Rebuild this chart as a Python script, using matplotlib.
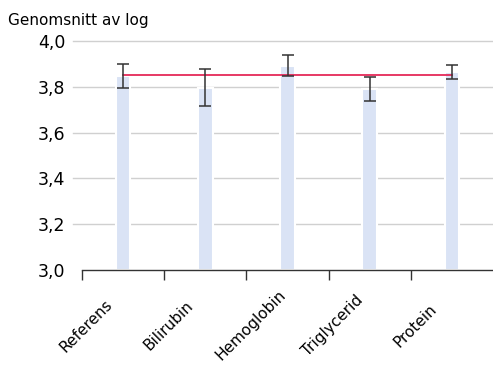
import matplotlib
matplotlib.use("Agg")
import matplotlib.pyplot as plt
import matplotlib.transforms as mtransforms
import numpy as np

# data
categories = ["Referens", "Bilirubin", "Hemoglobin", "Triglycerid", "Protein"]
means = [3.847, 3.796, 3.892, 3.790, 3.864]
errors = [0.052, 0.082, 0.046, 0.052, 0.031]
reference_level = 3.853
y_ticks = [3.0, 3.2, 3.4, 3.6, 3.8, 4.0]

fig = plt.figure(figsize=(4.93, 3.65), dpi=100)
ax = fig.add_axes([82/493, 1 - 270/365, 411/493, 229/365])

x = np.arange(len(categories))
ax.bar(x, np.array(means) - 3.0, bottom=3.0, width=0.18, color="#dae3f5",
       edgecolor="white", linewidth=1.5, zorder=2)
ax.errorbar(x, means, yerr=errors, fmt="none", ecolor="#333333",
            elinewidth=1.1, capsize=4, capthick=1.1, zorder=4)
ax.plot([x[0], x[-1]], [reference_level, reference_level], color="#e3174a",
        linewidth=1.2, zorder=3)

ax.set_xlim(-0.5, 4.5)
ax.set_ylim(3.0, 4.0)
ax.set_yticks(y_ticks)
ax.set_yticklabels([f"{v:.1f}".replace(".", ",") for v in y_ticks], fontsize=12.5)
ax.tick_params(axis="y", length=0, pad=12)
# grid lines reach a little left of the x axis start
for v in y_ticks[1:]:
    ax.axhline(v, xmin=-0.022, xmax=1, color="#d0d0d0", linewidth=1,
               zorder=0, clip_on=False)

# major ticks at category boundaries, labels at centers
ax.set_xticks(np.arange(-0.5, 4.5, 1.0))
ax.set_xticklabels([])
ax.tick_params(axis="x", which="major", length=7, width=1, color="#333333")
ax.set_xticks(x, minor=True)
ax.set_xticklabels(categories, minor=True, rotation=45, ha="center", va="center",
                   rotation_mode="anchor", fontsize=11)
ax.tick_params(axis="x", which="minor", length=0, pad=40)
# rotated labels sit left of their bars, centred on a point below the axis
offset = mtransforms.ScaledTranslation(-37/100, 0, fig.dpi_scale_trans)
for lab in ax.get_xticklabels(minor=True):
    lab.set_transform(lab.get_transform() + offset)

for s in ["top", "right", "left"]:
    ax.spines[s].set_visible(False)
ax.spines["bottom"].set_color("#333333")
ax.spines["bottom"].set_linewidth(1)

fig.text(8/493, 1 - 20/365, "Genomsnitt av log", fontsize=11, va="center", ha="left")

fig.savefig("out.png", dpi=100)
